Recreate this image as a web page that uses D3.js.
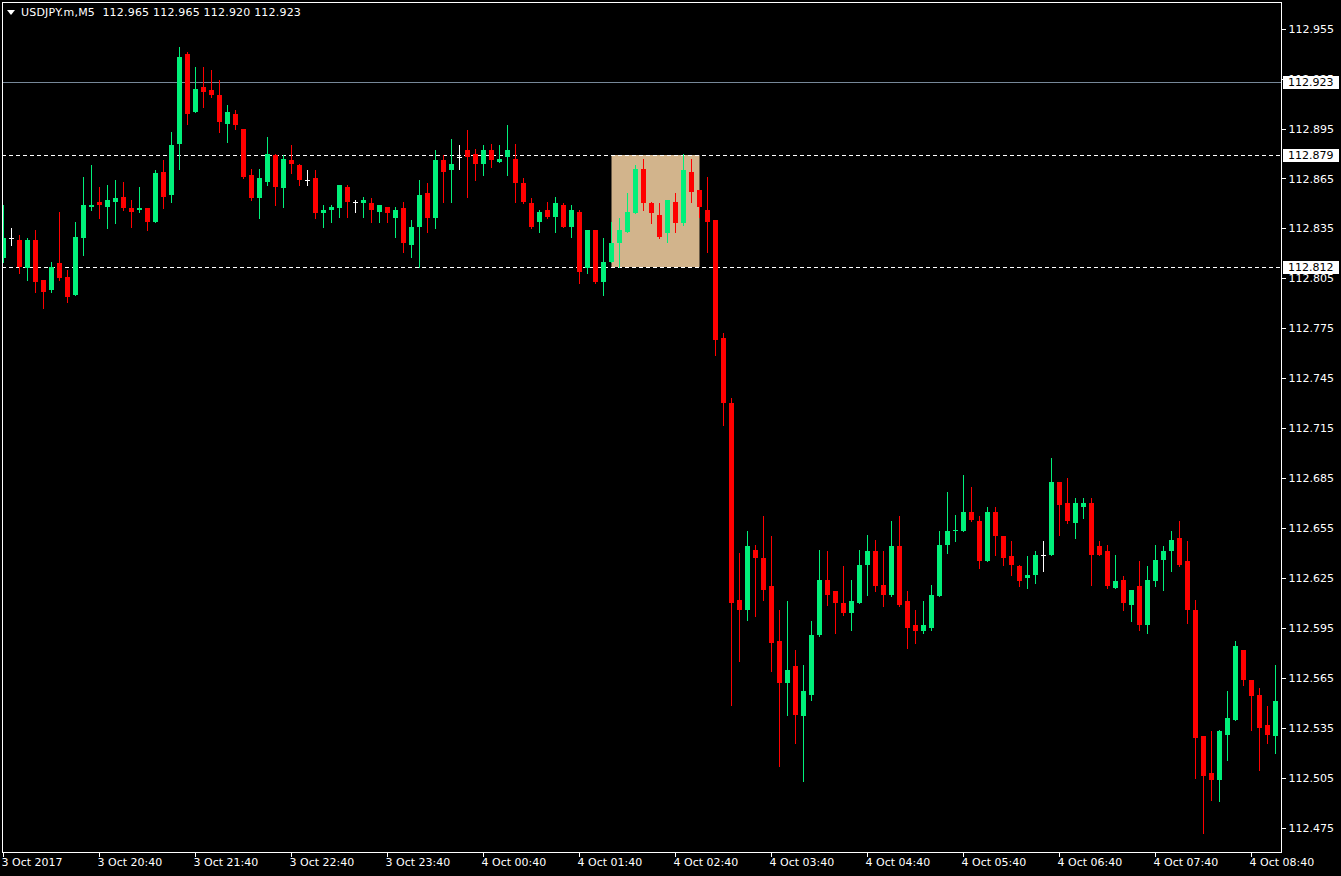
<!DOCTYPE html>
<html><head><meta charset="utf-8">
<script src="https://cdn.jsdelivr.net/npm/d3@7"></script>
<style>html,body{margin:0;padding:0;background:#000;overflow:hidden}</style>
</head><body><svg id="c" width="1341" height="876"></svg>
<script>
const symbolTitle = "USDJPY.m,M5  112.965 112.965 112.920 112.923";
const timeLabels = ["3 Oct 2017","3 Oct 20:40","3 Oct 21:40","3 Oct 22:40","3 Oct 23:40","4 Oct 00:40","4 Oct 01:40","4 Oct 02:40","4 Oct 03:40","4 Oct 04:40","4 Oct 05:40","4 Oct 06:40","4 Oct 07:40","4 Oct 08:40"];
const labelEvery = 12;
const priceTicks = [112.955,112.925,112.895,112.865,112.835,112.805,112.775,112.745,112.715,112.685,112.655,112.625,112.595,112.565,112.535,112.505,112.475];
const bidPrice = 112.923;
const levelLines = [112.879, 112.812];
const zoneBars = [76, 87];
const zonePrices = [112.879, 112.812];

const open = [112.817,112.829,112.828,112.811,112.828,112.804,112.798,112.814,112.806,112.795,
112.829,112.848,112.851,112.848,112.851,112.854,112.847,112.846,112.847,112.839,
112.869,112.855,112.886,112.940,112.905,112.920,112.918,112.915,112.898,112.904,
112.895,112.867,112.853,112.863,112.879,112.859,112.876,112.873,112.864,112.865,
112.844,112.846,112.847,112.860,112.851,112.850,112.850,112.845,112.848,112.841,
112.847,112.825,112.836,112.856,112.841,112.876,112.870,112.878,112.882,112.880,
112.874,112.882,112.875,112.878,112.877,112.862,112.850,112.839,112.846,112.842,
112.849,112.836,112.845,112.811,112.834,112.803,112.815,112.826,112.833,112.844,
112.871,112.850,112.843,112.832,112.851,112.838,112.869,112.858,112.846,112.840,
112.769,112.730,112.612,112.606,112.642,112.637,112.620,112.587,112.562,112.572,
112.542,112.555,112.591,112.624,112.617,112.610,112.604,112.610,112.633,112.641,
112.621,112.615,112.644,112.611,112.597,112.593,112.595,112.614,112.645,112.653,
112.653,112.665,112.659,112.635,112.665,112.650,112.638,112.632,112.625,112.627,
112.639,112.639,112.683,112.670,112.658,112.668,112.670,112.644,112.641,112.619,
112.624,112.609,112.620,112.597,112.623,112.636,112.641,112.649,112.635,112.606,
112.530,112.508,112.504,112.531,112.540,112.582,112.564,112.555,112.537,112.530];
const high = [112.849,112.835,112.831,112.829,112.834,112.804,112.815,112.845,112.810,112.839,
112.866,112.873,112.860,112.861,112.864,112.863,112.852,112.860,112.847,112.870,
112.876,112.893,112.944,112.941,112.932,112.932,112.930,112.924,112.909,112.906,
112.895,112.871,112.871,112.890,112.880,112.879,112.885,112.874,112.870,112.870,
112.849,112.849,112.861,112.861,112.852,112.854,112.853,112.849,112.848,112.848,
112.851,112.840,112.864,112.862,112.882,112.879,112.889,112.885,112.894,112.883,
112.885,112.886,112.885,112.897,112.886,112.865,112.853,112.846,112.851,112.854,
112.850,112.849,112.846,112.834,112.834,112.829,112.839,112.841,112.856,112.873,
112.877,112.851,112.850,112.852,112.856,112.880,112.877,112.858,112.866,112.840,
112.772,112.733,112.640,112.653,112.645,112.662,112.650,112.606,112.611,112.582,
112.573,112.599,112.642,112.641,112.617,112.632,112.624,112.642,112.651,112.648,
112.641,112.659,112.662,112.617,112.606,112.611,112.621,112.653,112.677,112.663,
112.687,112.680,112.662,112.668,112.668,112.650,112.647,112.633,112.638,112.641,
112.647,112.697,112.683,112.685,112.673,112.673,112.673,112.647,112.645,112.639,
112.626,112.618,112.635,112.632,112.645,112.644,112.653,112.659,112.647,112.612,
112.530,112.533,112.534,112.557,112.587,112.582,112.564,112.559,112.548,112.573];
const low = [112.815,112.825,112.808,112.804,112.797,112.787,112.797,112.804,112.791,112.795,
112.819,112.846,112.841,112.835,112.838,112.846,112.836,112.845,112.834,112.839,
112.847,112.851,112.871,112.898,112.905,112.908,112.914,112.893,112.887,112.895,
112.865,112.852,112.841,112.861,112.849,112.848,112.868,112.861,112.861,112.841,
112.836,112.839,112.842,112.842,112.845,112.842,112.839,112.839,112.839,112.830,
112.821,112.818,112.812,112.833,112.835,112.851,112.851,112.871,112.854,112.864,
112.867,112.872,112.875,112.867,112.851,112.850,112.835,112.833,112.841,112.833,
112.836,112.830,112.802,112.808,112.802,112.795,112.815,112.812,112.833,112.844,
112.846,112.838,112.829,112.827,112.833,112.837,112.851,112.842,112.821,112.759,
112.717,112.549,112.575,112.600,112.602,112.612,112.569,112.512,112.543,112.526,
112.503,112.552,112.590,112.609,112.592,112.603,112.594,112.610,112.615,112.617,
112.608,112.614,112.608,112.583,112.586,112.592,112.594,112.614,112.640,112.647,
112.653,112.659,112.631,112.635,112.639,112.633,112.627,112.620,112.619,112.622,
112.629,112.639,112.651,112.658,112.649,112.661,112.621,112.639,112.619,112.619,
112.606,112.599,112.594,112.592,112.620,112.618,112.629,112.632,112.598,112.505,
112.472,112.492,112.491,112.516,112.540,112.561,112.534,112.510,112.526,112.520];
const close = [112.829,112.829,112.812,112.828,112.803,112.797,112.812,112.805,112.794,112.830,
112.849,112.849,112.849,112.852,112.853,112.847,112.845,112.847,112.839,112.868,
112.854,112.885,112.938,112.904,112.919,112.917,112.915,112.899,112.905,112.897,
112.866,112.853,112.865,112.880,112.860,112.877,112.874,112.864,112.864,112.844,
112.846,112.848,112.861,112.851,112.851,112.852,112.846,112.849,112.844,112.846,
112.826,112.836,112.855,112.841,112.876,112.869,112.874,112.878,112.878,112.874,
112.882,112.876,112.877,112.882,112.862,112.851,112.836,112.845,112.842,112.850,
112.836,112.846,112.809,112.834,112.803,112.815,112.826,112.834,112.845,112.871,
112.850,112.844,112.830,112.852,112.838,112.870,112.857,112.848,112.839,112.768,
112.730,112.610,112.606,112.644,112.637,112.618,112.586,112.562,112.570,112.543,
112.557,112.591,112.624,112.615,112.610,112.604,112.611,112.633,112.641,112.620,
112.615,112.644,112.609,112.595,112.593,112.597,112.615,112.645,112.653,112.654,
112.665,112.660,112.635,112.665,112.650,112.637,112.633,112.623,112.627,112.639,
112.639,112.683,112.669,112.659,112.670,112.670,112.639,112.639,112.620,112.623,
112.610,112.618,112.597,112.624,112.636,112.641,112.648,112.633,112.606,112.529,
112.506,112.504,112.533,112.541,112.584,112.564,112.554,112.535,112.531,112.551];

const W = 1341, H = 876;
const plot = {left: 2, top: 2, right: 1281, bottom: 852};
const UP = "#00f07a", DOWN = "#ff0000", DOJI = "#ffffff";
const FONT = "DejaVu Sans, Verdana, sans-serif";

const svg = d3.select("#c");
svg.append("rect").attr("width", W).attr("height", H).attr("fill", "#000");

const x = d3.scaleBand().domain(d3.range(open.length)).range([-0.5, -0.5 + 8 * open.length]).padding(0);
const cx = i => x(i) + x.bandwidth() / 2;
const y = d3.scaleLinear().domain([112.4605, 112.971]).range([plot.bottom, plot.top]);
const ry = v => Math.round(y(v));

svg.append("defs").append("clipPath").attr("id", "clip")
  .append("rect").attr("x", plot.left + 0.5).attr("y", plot.top + 0.5)
  .attr("width", plot.right - plot.left - 0.5).attr("height", plot.bottom - plot.top - 0.5);

const g = svg.append("g").attr("clip-path", "url(#clip)");

// zone rectangle
g.append("rect")
  .attr("x", cx(zoneBars[0])).attr("width", cx(zoneBars[1]) - cx(zoneBars[0]))
  .attr("y", ry(zonePrices[0])).attr("height", ry(zonePrices[1]) - ry(zonePrices[0]))
  .attr("fill", "#d2b48c");

// bid line
g.append("line").attr("x1", plot.left).attr("x2", plot.right)
  .attr("y1", ry(bidPrice) + 0.5).attr("y2", ry(bidPrice) + 0.5)
  .attr("stroke", "#778899").attr("stroke-width", 1);

// level dashed lines
g.selectAll("line.lvl").data(levelLines).join("line").attr("class", "lvl")
  .attr("x1", plot.left).attr("x2", plot.right)
  .attr("y1", d => ry(d) + 0.5).attr("y2", d => ry(d) + 0.5)
  .attr("stroke", "#ffffff").attr("stroke-width", 1).attr("stroke-dasharray", "4,3")
  .attr("shape-rendering", "crispEdges");

// candles
const idx = d3.range(open.length);
const col = i => close[i] > open[i] ? UP : (close[i] < open[i] ? DOWN : DOJI);
const cg = g.append("g").attr("shape-rendering", "crispEdges");
cg.selectAll("line.wick").data(idx).join("line").attr("class", "wick")
  .attr("x1", i => cx(i)).attr("x2", i => cx(i))
  .attr("y1", i => ry(high[i])).attr("y2", i => ry(low[i]) + 1)
  .attr("stroke", col).attr("stroke-width", 1);
cg.selectAll("rect.body").data(idx).join("rect").attr("class", "body")
  .attr("x", i => cx(i) - 2.5).attr("width", 5)
  .attr("y", i => ry(Math.max(open[i], close[i])))
  .attr("height", i => Math.max(1, ry(Math.min(open[i], close[i])) - ry(Math.max(open[i], close[i]))))
  .attr("fill", col);

// frame
svg.append("rect").attr("x", plot.left + 0.5).attr("y", plot.top + 0.5)
  .attr("width", plot.right - plot.left).attr("height", plot.bottom - plot.top)
  .attr("fill", "none").attr("stroke", "#ffffff").attr("stroke-width", 1)
  .attr("shape-rendering", "crispEdges");

// price axis
const yAxis = d3.axisRight(y).tickValues(priceTicks).tickFormat(d3.format(".3f")).tickSize(4).tickPadding(3);
const ya = svg.append("g").attr("transform", `translate(${plot.right + 0.5},0)`).call(yAxis);
ya.select(".domain").remove();
ya.selectAll(".tick line").attr("stroke", "#fff").attr("shape-rendering", "crispEdges");
ya.selectAll(".tick text").attr("fill", "#fff").attr("font-family", FONT).attr("font-size", 11);

// price labels boxes (drawn over the regular tick labels, as in the terminal)
const boxes = [bidPrice].concat(levelLines);
const bg = svg.append("g");
boxes.forEach(p => {
  const yy = ry(p);
  bg.append("rect").attr("x", plot.right + 2).attr("y", yy - 6).attr("width", 56).attr("height", 13).attr("fill", "#fff");
  bg.append("text").attr("x", plot.right + 7).attr("y", yy).attr("dy", "0.36em")
    .attr("fill", "#000").attr("font-family", FONT).attr("font-size", 11).text(d3.format(".3f")(p));
});

// time axis
const tickIdx = timeLabels.map((_, j) => j * labelEvery);
const xAxis = d3.axisBottom(x).tickValues(tickIdx).tickFormat((d, j) => timeLabels[j]).tickSize(4).tickPadding(2);
const xa = svg.append("g").attr("transform", `translate(0,${plot.bottom + 0.5})`).call(xAxis);
xa.select(".domain").remove();
xa.selectAll(".tick line").attr("stroke", "#fff").attr("shape-rendering", "crispEdges");
xa.selectAll(".tick text").attr("fill", "#fff").attr("font-family", FONT).attr("font-size", 11)
  .attr("text-anchor", "start").attr("x", -2);

// title
svg.append("path").attr("d", "M7,10 L15,10 L11,15 Z").attr("fill", "#fff");
svg.append("text").attr("x", 21).attr("y", 16).attr("fill", "#fff")
  .attr("font-family", FONT).attr("font-size", 11).attr("letter-spacing", "0.2")
  .style("white-space", "pre").text(symbolTitle);
</script></body></html>
